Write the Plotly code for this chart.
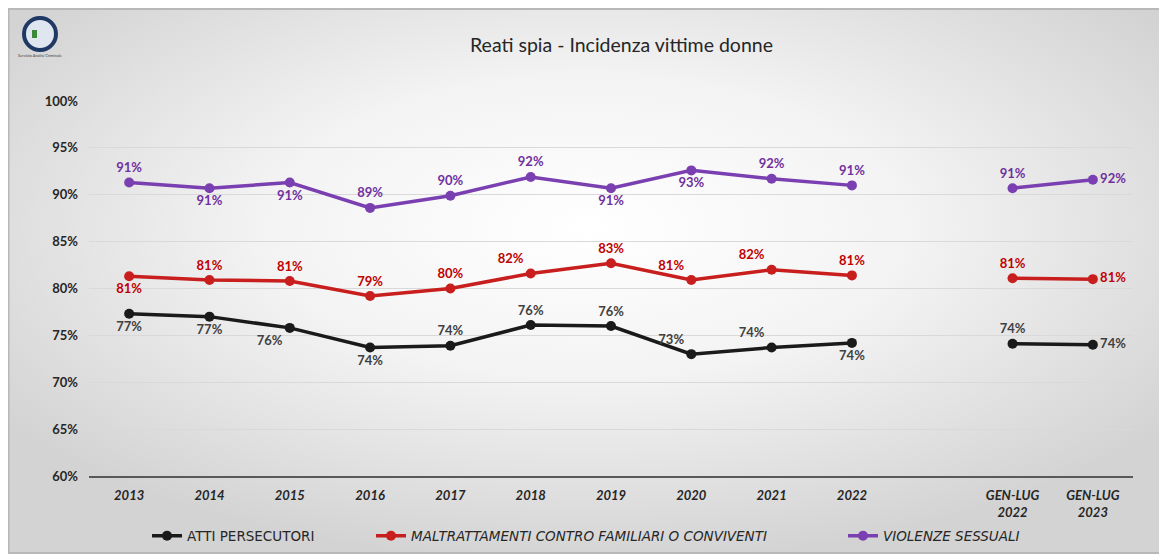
import plotly.graph_objects as go
from urllib.parse import quote

# ---------------- data ----------------
periods = ["2013", "2014", "2015", "2016", "2017", "2018", "2019", "2020", "2021", "2022",
           " ", "GEN-LUG<br>2022", "GEN-LUG<br>2023"]
atti_persecutori = [77.3, 77.0, 75.8, 73.7, 73.9, 76.1, 76.0, 73.0, 73.7, 74.2, None, 74.1, 74.0]
maltrattamenti = [81.3, 80.9, 80.8, 79.2, 80.0, 81.6, 82.7, 80.9, 82.0, 81.4, None, 81.1, 81.0]
violenze_sessuali = [91.3, 90.7, 91.3, 88.6, 89.9, 91.9, 90.7, 92.6, 91.7, 91.0, None, 90.7, 91.6]
series_names = ["ATTI PERSECUTORI",
                "<i>MALTRATTAMENTI CONTRO FAMILIARI O CONVIVENTI</i>",
                "<i>VIOLENZE SESSUALI</i>"]
title_text = "Reati spia - Incidenza vittime donne"
y_ticks = [60, 65, 70, 75, 80, 85, 90, 95, 100]
y_tick_labels = ["60%", "65%", "70%", "75%", "80%", "85%", "90%", "95%", "100%"]

# label placement (style)
pos_atti = ["bottom center", "bottom center", "bottom left", "bottom center", "top center",
            "top center", "top center", "top left", "top left", "bottom center", "top center",
            "top center", "middle right"]
pos_maltr = ["bottom center", "top center", "top center", "top center", "top center",
             "top left", "top center", "top left", "top left", "top center", "top center",
             "top center", "middle right"]
pos_viol = ["top center", "bottom center", "bottom center", "top center", "top center",
            "top center", "bottom center", "bottom center", "top center", "top center",
            "top center", "top center", "middle right"]

OFF = 8                      # page body margin
W, H = 1167 - OFF, 554 - OFF
ML, MR, MT, MB = 89 - OFF, 34, 101 - OFF, 78
PW, PH = W - ML - MR, H - MT - MB


def px(page_x):
    return (page_x - OFF - ML) / PW


def py(page_y):
    return (H - MB - (page_y - OFF)) / PH


def cx(page_x):
    return (page_x - OFF) / W


def cy(page_y):
    return 1 - (page_y - OFF) / H


FONT = "Lato, 'Open Sans', sans-serif"
FONT_LEG = "'DejaVu Sans', 'Open Sans', sans-serif"

fig = go.Figure()
specs = [
    (atti_persecutori, series_names[0], "#1a1a1a", "#404040", pos_atti, "legend"),
    (maltrattamenti, series_names[1], "#c81e1e", "#c00000", pos_maltr, "legend2"),
    (violenze_sessuali, series_names[2], "#7a3fb0", "#7030a0", pos_viol, "legend3"),
]
for vals, name, col, tcol, pos, leg in specs:
    fig.add_trace(go.Scatter(
        x=periods, y=vals, name=name, mode="lines+markers+text",
        line=dict(color=col, width=3.5), marker=dict(color=col, size=10),
        texttemplate="%{y:.0f}%", textposition=pos,
        textfont=dict(family=FONT, size=13, color=tcol, weight="bold"),
        connectgaps=False, cliponaxis=False, legend=leg,
    ))

svg = ("<svg xmlns='http://www.w3.org/2000/svg' width='1160' height='544' preserveAspectRatio='none'>"
       "<defs><radialGradient id='g' cx='0.5' cy='0.4' r='0.62'>"
       "<stop offset='0' stop-color='#ffffff'/><stop offset='0.45' stop-color='#f3f3f3'/>"
       "<stop offset='1' stop-color='#d3d3d3'/></radialGradient></defs>"
       "<rect width='100%' height='100%' fill='url(#g)'/></svg>")
src = "data:image/svg+xml;charset=utf-8," + quote(svg)

legend_common = dict(orientation="h", xref="container", yref="container", xanchor="left",
                     yanchor="middle", y=cy(536), bgcolor="rgba(0,0,0,0)",
                     font=dict(family=FONT_LEG, size=13.5, color="#262626"), itemwidth=30)

fig.update_layout(
    width=W, height=H,
    margin=dict(l=ML, r=MR, t=MT, b=MB, autoexpand=False),
    paper_bgcolor="#ffffff", plot_bgcolor="rgba(0,0,0,0)",
    font=dict(family=FONT, color="#262626"),
    showlegend=True,
    legend=dict(x=cx(187 - 40), **legend_common),
    legend2=dict(x=cx(411 - 40), **legend_common),
    legend3=dict(x=cx(883 - 40), **legend_common),
    images=[dict(source=src, xref="paper", yref="paper", x=px(OFF), y=py(OFF + 2),
                 sizex=px(1167) - px(OFF), sizey=py(OFF + 2) - py(554), sizing="stretch",
                 xanchor="left", yanchor="top", layer="below")],
    shapes=[
        dict(type="rect", xref="paper", yref="paper", x0=px(OFF + 0.5), x1=px(1170), y0=py(553),
             y1=py(OFF + 1), line=dict(color="#b8b8b8", width=2), fillcolor="rgba(0,0,0,0)",
             layer="below"),
        dict(type="circle", xref="paper", yref="paper", x0=px(24), x1=px(56), y0=py(50), y1=py(18),
             line=dict(color="#1f3864", width=4), fillcolor="#dfe6ef"),
        dict(type="rect", xref="paper", yref="paper", x0=px(32), x1=px(37), y0=py(38), y1=py(30),
             line=dict(width=0), fillcolor="#3a8a3a"),
    ],
    annotations=[
        dict(text=title_text, xref="paper", yref="paper", x=px(621), y=py(44),
             xanchor="center", yanchor="middle", showarrow=False,
             font=dict(family=FONT, size=19.5, color="#262626")),
        dict(text="Servizio Analisi Criminale", xref="paper", yref="paper", x=px(40), y=py(56),
             xanchor="center", yanchor="middle", showarrow=False,
             font=dict(family=FONT, size=4, color="#404040")),
    ],
)
fig.update_xaxes(type="category", categoryorder="array", categoryarray=periods,
                 range=[-0.5, len(periods) - 0.5],
                 showline=True, linecolor="#595959", linewidth=2, showgrid=False,
                 ticks="", ticklabelstandoff=6,
                 tickfont=dict(family=FONT, size=13, color="#262626", weight="bold", style="italic"))
fig.update_yaxes(range=[60, 100], tickvals=y_ticks, ticktext=y_tick_labels,
                 showgrid=True, gridcolor="#d9d9d9", gridwidth=1, zeroline=False,
                 ticks="", ticklabelstandoff=10,
                 tickfont=dict(family=FONT, size=13, color="#262626", weight="bold"))

fig.write_html("out.html")
